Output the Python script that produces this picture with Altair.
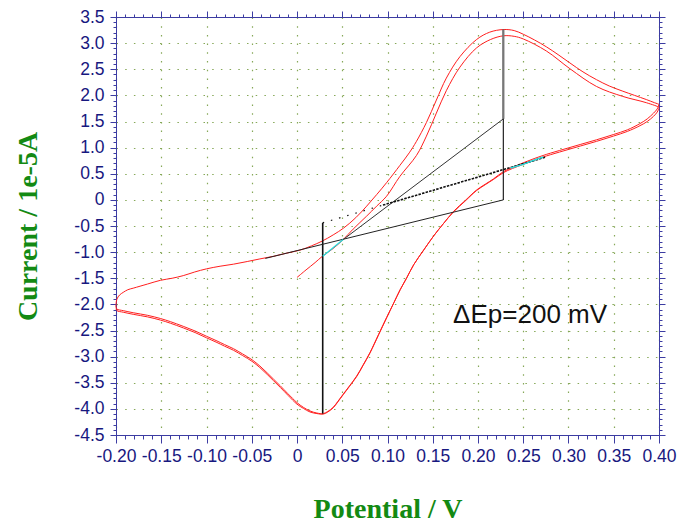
import altair as alt
import pandas as pd

# ---------------- data ----------------
# forward sweep 1 (starts at 0 V)
fwd1_E = [0.000, 0.010, 0.020, 0.028, 0.040, 0.051, 0.062, 0.077, 0.088, 0.099, 0.1137, 0.132,
          0.143, 0.154, 0.165, 0.180, 0.1985, 0.214, 0.228, 0.240, 0.250, 0.2755, 0.3016,
          0.331, 0.360, 0.386, 0.400]
fwd1_I = [-1.485, -1.34, -1.20, -1.08, -0.93, -0.76, -0.56, -0.31, -0.12, 0.07, 0.45, 0.85,
          1.22, 1.66, 2.09, 2.54, 2.91, 3.07, 3.14, 3.13, 3.08, 2.85, 2.51,
          2.17, 1.98, 1.86, 1.77]
# reverse sweep 1
rev1_E = [0.400, 0.398, 0.394, 0.387, 0.379, 0.365, 0.3495, 0.331, 0.313, 0.295, 0.2755, 0.262,
          0.250, 0.238, 0.228, 0.217, 0.208, 0.1985, 0.186, 0.173, 0.162, 0.151, 0.140, 0.129,
          0.121, 0.114, 0.107, 0.099, 0.090, 0.0807, 0.073, 0.066, 0.058, 0.051, 0.045, 0.040,
          0.034, 0.029, 0.022, 0.0144, 0.007, 0.000, -0.010, -0.0184, -0.026, -0.033, -0.041,
          -0.0497, -0.060, -0.070, -0.080, -0.0884, -0.100, -0.1125, -0.1257, -0.140, -0.151,
          -0.165, -0.181, -0.192, -0.199, -0.200]
rev1_I = [1.76, 1.68, 1.60, 1.50, 1.42, 1.31, 1.22, 1.12, 1.03, 0.94, 0.84, 0.76,
          0.68, 0.60, 0.52, 0.39, 0.29, 0.18, -0.02, -0.23, -0.45, -0.69, -0.96, -1.24,
          -1.50, -1.72, -1.97, -2.25, -2.58, -2.92, -3.16, -3.37, -3.56, -3.72, -3.86, -3.97,
          -4.05, -4.09, -4.08, -4.04, -3.97, -3.88, -3.71, -3.56, -3.43, -3.31, -3.18,
          -3.06, -2.95, -2.85, -2.77, -2.70, -2.61, -2.51, -2.42, -2.33, -2.27,
          -2.21, -2.16, -2.12, -2.09, -2.05]
# forward sweep 2
fwd2_E = [-0.200, -0.199, -0.196, -0.192, -0.187, -0.181, -0.165, -0.151, -0.138, -0.1257,
          -0.113, -0.100, -0.085, -0.070, -0.055, -0.041, -0.026, -0.0115, 0.0037, 0.016,
          0.0277, 0.040, 0.0515, 0.065, 0.077, 0.088, 0.099, 0.1137, 0.124, 0.132, 0.143,
          0.154, 0.165, 0.180, 0.1985, 0.213, 0.228, 0.240, 0.250, 0.2625, 0.2755, 0.2885,
          0.3016, 0.316, 0.331, 0.345, 0.360, 0.373, 0.386, 0.395, 0.400]
fwd2_I = [-2.00, -1.90, -1.82, -1.77, -1.72, -1.69, -1.61, -1.54, -1.50, -1.45,
          -1.38, -1.32, -1.27, -1.23, -1.18, -1.13, -1.08, -1.02, -0.96, -0.88,
          -0.79, -0.67, -0.54, -0.34, -0.12, 0.10, 0.33, 0.66, 0.90, 1.12, 1.48,
          1.91, 2.33, 2.74, 3.07, 3.21, 3.26, 3.24, 3.17, 3.06, 2.93, 2.78,
          2.62, 2.45, 2.30, 2.18, 2.08, 2.00, 1.92, 1.86, 1.83]
# reverse sweep 2
rev2_E = rev1_E
rev2_I = [1.83, 1.74, 1.66, 1.55, 1.46, 1.34, 1.25, 1.15, 1.06, 0.97, 0.87, 0.79,
          0.71, 0.62, 0.54, 0.40, 0.30, 0.19, -0.01, -0.22, -0.45, -0.69, -0.96, -1.24,
          -1.50, -1.72, -1.97, -2.26, -2.59, -2.93, -3.17, -3.38, -3.57, -3.73, -3.87, -3.98,
          -4.06, -4.10, -4.09, -4.06, -3.99, -3.91, -3.74, -3.59, -3.46, -3.34, -3.21,
          -3.09, -2.98, -2.88, -2.80, -2.73, -2.64, -2.54, -2.45, -2.36, -2.30,
          -2.24, -2.19, -2.15, -2.12, -2.08]

# peak-analysis construction lines
cath_peak_E = [0.0284, 0.0284]
cath_peak_I = [-0.44, -4.09]
anod_peak_E = [0.228, 0.228]
anod_peak_I = [0.0, 3.26]
anod_thick_E = [0.228, 0.228]
anod_thick_I = [1.55, 3.26]
base_a_E = [-0.035, 0.228]
base_a_I = [-1.12, 0.0]
base_b_E = [0.051, 0.228]
base_b_I = [-0.76, 1.55]
base_c1_E = [0.0284, 0.095]
base_c1_I = [-0.44, -0.10]
base_c2_E = [0.095, 0.275]
base_c2_I = [-0.10, 0.82]
cyan_a_E = [0.0284, 0.051]
cyan_a_I = [-1.08, -0.76]
cyan_b_E = [0.236, 0.250, 0.262, 0.272]
cyan_b_I = [0.61, 0.68, 0.76, 0.82]

note_text = ["ΔEp=200 mV"]
note_E = [0.1725]
note_I = [-2.36]

x_major = [-0.2, -0.15, -0.1, -0.05, 0, 0.05, 0.1, 0.15, 0.2, 0.25, 0.3, 0.35, 0.4]
x_minor = [round(-0.2 + 0.01 * i, 2) for i in range(61)]
y_major = [-4.5, -4.0, -3.5, -3.0, -2.5, -2.0, -1.5, -1.0, -0.5, 0, 0.5, 1.0, 1.5, 2.0,
           2.5, 3.0, 3.5]
y_minor = [round(-4.5 + 0.1 * i, 1) for i in range(81)]

# ---------------- build tables ----------------
rows = []
k = 0
for E, I in [(fwd1_E, fwd1_I), (rev1_E, rev1_I), (fwd2_E, fwd2_I), (rev2_E, rev2_I)]:
    for e, i in zip(E, I):
        rows.append({"E": e, "I": i, "k": k})
        k += 1
cv = pd.DataFrame(rows)


def seg(E, I):
    return pd.DataFrame({"E": E, "I": I, "k": list(range(len(E)))})


AX = "#3c3ca2"
LAB = "#18187f"
TIT = "#138a13"
GRID = "#86a858"

xs = alt.Scale(domain=[-0.2, 0.4], nice=False, zero=False)
ys = alt.Scale(domain=[-4.5, 3.5], nice=False, zero=False)

x_lab = "datum.value == 0 ? '0' : (datum.value < 0 ? '-' : '') + format(abs(datum.value), '.2f')"
y_lab = "datum.value == 0 ? '0' : (datum.value < 0 ? '-' : '') + format(abs(datum.value), '.1f')"

ax_bottom = alt.Axis(orient="bottom", values=x_major, labelExpr=x_lab, labelFont="Liberation Sans",
                     labelFontSize=17.5, labelColor=LAB, labelPadding=4, labelFlush=False,
                     labelOverlap=False, tickSize=8, tickColor=AX, domainColor=AX,
                     grid=True, gridColor=GRID, gridDash=[1.5, 7.2], gridWidth=1.2,
                     title="Potential / V", titleFont="Liberation Serif", titleFontSize=28,
                     titleFontWeight="bold", titleColor=TIT, titleX=271.5, titleY=82,
                     titleBaseline="alphabetic", titleAlign="center")
ax_left = alt.Axis(orient="left", values=y_major, labelExpr=y_lab, labelFont="Liberation Sans",
                   labelFontSize=17.5, labelColor=LAB, labelPadding=6, labelFlush=False,
                   labelOverlap=False, tickSize=6, tickColor=AX, domainColor=AX,
                   grid=True, gridColor=GRID, gridDash=[1.5, 7.2], gridWidth=1.2,
                   title="Current / 1e-5A", titleFont="Liberation Serif", titleFontSize=28,
                   titleFontWeight="bold", titleColor=TIT, titleAngle=270, titleX=-80,
                   titleY=209, titleBaseline="alphabetic", titleAlign="center")
ax_bottom_minor = alt.Axis(orient="bottom", values=x_minor, labels=False, domain=False,
                           grid=False, tickSize=4, tickColor=AX, title="")
ax_left_minor = alt.Axis(orient="left", values=y_minor, labels=False, domain=False,
                         grid=False, tickSize=3, tickColor=AX, title="")
ax_top = alt.Axis(orient="top", values=x_major, labels=False, domainColor=AX, grid=False,
                  tickSize=6, tickColor=AX, title="")
ax_right = alt.Axis(orient="right", values=y_major, labels=False, domainColor=AX, grid=False,
                    tickSize=6, tickColor=AX, title="")
ax_top_minor = alt.Axis(orient="top", values=x_minor, labels=False, domain=False, grid=False,
                        tickSize=3, tickColor=AX, title="")
ax_right_minor = alt.Axis(orient="right", values=y_minor, labels=False, domain=False,
                          grid=False, tickSize=3, tickColor=AX, title="")


def line_layer(df, xaxis=None, yaxis=None, **mark):
    xenc = alt.X("E:Q", scale=xs, axis=xaxis)
    yenc = alt.Y("I:Q", scale=ys, axis=yaxis)
    return alt.Chart(df).mark_line(**mark).encode(x=xenc, y=yenc, order="k:Q")


curve = line_layer(cv, ax_bottom, ax_left, color="#ff1e1e", strokeWidth=1,
                   interpolate="catmull-rom")
l_cath = line_layer(seg(cath_peak_E, cath_peak_I), ax_bottom_minor, ax_left_minor,
                    color="#111111", strokeWidth=1.6)
l_anod = line_layer(seg(anod_peak_E, anod_peak_I), ax_top, ax_right,
                    color="#222222", strokeWidth=1.2)
l_thick = line_layer(seg(anod_thick_E, anod_thick_I), ax_top_minor, ax_right_minor,
                     color="#777777", strokeWidth=2.2)
l_a = line_layer(seg(base_a_E, base_a_I), color="#222222", strokeWidth=1)
l_b = line_layer(seg(base_b_E, base_b_I), color="#333333", strokeWidth=1)
l_c1 = line_layer(seg(base_c1_E, base_c1_I), color="#111111", strokeWidth=1.2,
                  strokeDash=[1.5, 7])
l_c2 = line_layer(seg(base_c2_E, base_c2_I), color="#111111", strokeWidth=1.6,
                  strokeDash=[2.5, 1.2])
l_cy1 = line_layer(seg(cyan_a_E, cyan_a_I), color="#22dddd", strokeWidth=1.2)
l_cy2 = line_layer(seg(cyan_b_E, cyan_b_I), color="#22dddd", strokeWidth=1.4)

note = alt.Chart(pd.DataFrame({"E": note_E, "I": note_I, "t": note_text})).mark_text(
    font="Liberation Sans", fontSize=26, color="#111111", align="left", baseline="alphabetic"
).encode(x=alt.X("E:Q", scale=xs, axis=None), y=alt.Y("I:Q", scale=ys, axis=None), text="t:N")

chart = alt.layer(curve, l_cath, l_anod, l_thick, l_a, l_b, l_c2, l_c1, l_cy1, l_cy2,
                  note).resolve_axis(x="independent", y="independent").properties(
    width=543, height=418,
    autosize=alt.AutoSizeParams(type="none"),
    padding={"left": 116, "top": 17, "right": 20, "bottom": 92},
    background="white",
).configure_view(stroke=None)

chart.save("out.html", embed_options={"renderer": "svg", "actions": False})
